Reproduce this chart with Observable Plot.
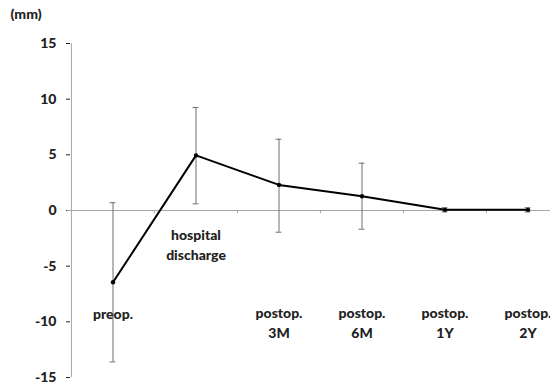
<!DOCTYPE html>
<html>
<head>
<meta charset="utf-8">
<script src="https://cdn.jsdelivr.net/npm/d3@7"></script>
<script src="https://cdn.jsdelivr.net/npm/@observablehq/plot@0.6"></script>
<style>
  html, body { margin: 0; padding: 0; background: #fff; }
  svg { display: block; }
</style>
</head>
<body>
<div id="chart"></div>
<script>
const categories = ["preop.", "hospital discharge", "postop. 3M", "postop. 6M", "postop. 1Y", "postop. 2Y"];
const labelLines = [["preop."], ["hospital", "discharge"], ["postop.", "3M"], ["postop.", "6M"], ["postop.", "1Y"], ["postop.", "2Y"]];
const meanValues = [-6.45, 4.95, 2.3, 1.28, 0.06, 0.06];
const upperValues = [0.7, 9.25, 6.4, 4.25, 0.25, 0.25];
const lowerValues = [-13.6, 0.6, -1.95, -1.68, -0.13, -0.13];
const yTicks = [-15, -10, -5, 0, 5, 10, 15];
const yUnit = "(mm)";

const data = categories.map((c, i) => ({
  category: c, mean: meanValues[i], upper: upperValues[i], lower: lowerValues[i], label: labelLines[i].join("\n")
}));

const x0 = 70, x1 = 569;
const bw = (x1 - x0) / categories.length;
// label vertical placement (data units) per category
const labelY = d => d.category === "hospital discharge" ? -3.0 : (d.category === "preop." ? -9.15 : -10.0);

const FONT = "Lato, 'Open Sans', sans-serif";
const chart = Plot.plot({
  width: 550,
  height: 385,
  marginLeft: x0,
  marginRight: 0,
  marginTop: 0,
  marginBottom: 0,
  style: { fontFamily: FONT, fontSize: "14px", fontWeight: "900", color: "#222", background: "#fff" },
  x: { type: "band", domain: categories, range: [x0, x1], padding: 0, axis: null },
  y: { domain: [-15, 15], range: [377, 43], ticks: yTicks, tickSize: 4, tickPadding: 10, label: null, tickFormat: d => d },
  marks: [
    // y axis line
    Plot.ruleX([categories[0]], { x: d => d, dx: -bw / 2, y1: -15, y2: 15, stroke: "#a6a6a6", strokeWidth: 1 }),
    // zero baseline
    Plot.ruleY([0], { stroke: "#a6a6a6", strokeWidth: 1, insetLeft: -3 }),
    // category boundary ticks on baseline
    Plot.ruleX(categories.slice(1), { x: d => d, dx: -bw / 2, y1: 0, y2: -0.3, stroke: "#a6a6a6", strokeWidth: 1 }),
    // error bars
    Plot.ruleX(data, { x: "category", y1: "lower", y2: "upper", stroke: "#6e6e6e", strokeWidth: 1 }),
    Plot.tickY(data, { x: "category", y: "upper", stroke: "#6e6e6e", strokeWidth: 1, insetLeft: bw / 2 - 3, insetRight: bw / 2 - 3 }),
    Plot.tickY(data, { x: "category", y: "lower", stroke: "#6e6e6e", strokeWidth: 1, insetLeft: bw / 2 - 3, insetRight: bw / 2 - 3 }),
    // mean line
    Plot.line(data, { x: "category", y: "mean", stroke: "#000", strokeWidth: 2 }),
    Plot.dot(data, { x: "category", y: "mean", r: 2.2, fill: "#000", stroke: null }),
    // category labels
    Plot.text(data, { x: "category", y: labelY, text: "label", fill: "#222", fontSize: 14, fontWeight: "900", lineHeight: 1.4 }),
    // unit label
    Plot.text([yUnit], { frameAnchor: "top-left", dx: -x0 + 10, dy: 9, textAnchor: "start", lineAnchor: "top", fill: "#222", fontSize: 14, fontWeight: "900" })
  ]
});
document.getElementById("chart").appendChild(chart);
</script>
</body>
</html>
